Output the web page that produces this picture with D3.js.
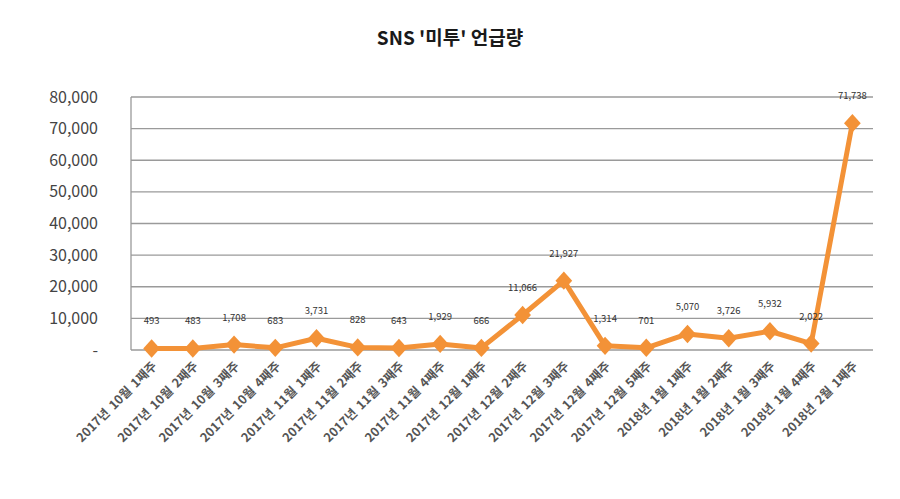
<!DOCTYPE html>
<html>
<head>
<meta charset="utf-8">
<script src="https://cdn.jsdelivr.net/npm/d3@7"></script>
<style>
  body { margin: 0; background: #fff; }
  text { font-family: "Noto Sans CJK KR", "Noto Sans", sans-serif; }
</style>
</head>
<body>
<svg id="chart" width="900" height="499"></svg>
<script>
// weekly labels and mention counts
var weeks = ["2017년 10월 1째주", "2017년 10월 2째주", "2017년 10월 3째주", "2017년 10월 4째주",
  "2017년 11월 1째주", "2017년 11월 2째주", "2017년 11월 3째주", "2017년 11월 4째주",
  "2017년 12월 1째주", "2017년 12월 2째주", "2017년 12월 3째주", "2017년 12월 4째주",
  "2017년 12월 5째주", "2018년 1월 1째주", "2018년 1월 2째주", "2018년 1월 3째주",
  "2018년 1월 4째주", "2018년 2월 1째주"];
var mentions = [493, 483, 1708, 683, 3731, 828, 643, 1929, 666, 11066, 21927, 1314, 701, 5070, 3726, 5932, 2022, 71738];
var yTicks = [0, 10000, 20000, 30000, 40000, 50000, 60000, 70000, 80000];

var svg = d3.select("#chart");
var margin = {left: 131, right: 27, top: 97, bottom: 149};
var w = 900 - margin.left - margin.right,
    h = 499 - margin.top - margin.bottom;

var x = d3.scaleBand().domain(weeks).range([0, w]);
var y = d3.scaleLinear().domain([0, 80000]).range([h, 0]);

svg.append("text")
  .attr("x", 450).attr("y", 45)
  .attr("text-anchor", "middle")
  .attr("font-size", 19).attr("font-weight", "bold")
  .attr("fill", "#1a1a1a")
  .text("SNS '미투' 언급량");

var g = svg.append("g").attr("transform", "translate(" + margin.left + "," + margin.top + ")");

// gridlines
g.selectAll(".grid").data(yTicks).enter().append("line")
  .attr("x1", 0).attr("x2", w)
  .attr("y1", d => y(d)).attr("y2", d => y(d))
  .attr("stroke", "#9a9a9a").attr("stroke-width", 1.3);

// left axis line
g.append("line").attr("x1", 0).attr("x2", 0).attr("y1", 0).attr("y2", h)
  .attr("stroke", "#9a9a9a").attr("stroke-width", 1.3);

// y tick labels
var fmt = d3.format(",");
g.selectAll(".ylab").data(yTicks).enter().append("text")
  .attr("x", -33).attr("y", d => y(d)).attr("dy", "0.35em")
  .attr("text-anchor", "end")
  .attr("font-size", 16).attr("fill", "#444")
  .text(d => d === 0 ? "-" : fmt(d));

var cx = d => x(d) + x.bandwidth() / 2;

// x labels, rotated
g.selectAll(".xlab").data(weeks).enter().append("text")
  .attr("transform", d => "translate(" + (cx(d) + 6) + "," + (h + 17) + ") rotate(-45)")
  .attr("text-anchor", "end")
  .attr("font-size", 12.5).attr("font-weight", "bold").attr("fill", "#555")
  .attr("word-spacing", 2)
  .text(d => d);

var pts = weeks.map((d, i) => ({week: d, v: mentions[i]}));

var line = d3.line().x(d => cx(d.week)).y(d => y(d.v));

g.append("path").datum(pts)
  .attr("d", line)
  .attr("fill", "none")
  .attr("stroke", "#f39237")
  .attr("stroke-width", 5)
  .attr("stroke-linejoin", "round");

// wider diamond, like the spreadsheet marker
var diamond = {
  draw: function(ctx, size) {
    var r = Math.sqrt(size) / 2;
    ctx.moveTo(0, -r * 1.1);
    ctx.lineTo(r, 0);
    ctx.lineTo(0, r * 1.1);
    ctx.lineTo(-r, 0);
    ctx.closePath();
  }
};

g.selectAll(".mark").data(pts).enter().append("path")
  .attr("d", d3.symbol().type(diamond).size(280))
  .attr("transform", d => "translate(" + cx(d.week) + "," + y(d.v) + ")")
  .attr("fill", "#f39237");

// data labels
g.selectAll(".val").data(pts).enter().append("text")
  .attr("x", d => cx(d.week)).attr("y", d => y(d.v) - 24)
  .attr("text-anchor", "middle")
  .attr("font-size", 9.5).attr("fill", "#333")
  .text(d => fmt(d.v));
</script>
</body>
</html>
